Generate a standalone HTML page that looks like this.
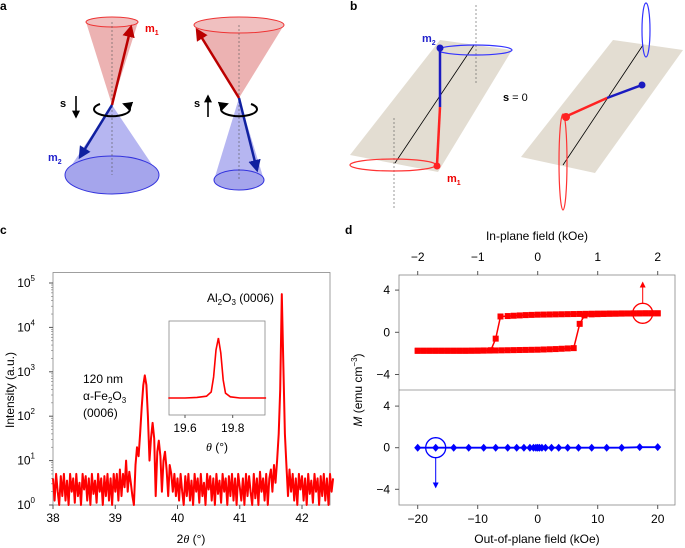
<!DOCTYPE html>
<html><head><meta charset="utf-8"><style>
body{margin:0;background:#fff;}
svg{display:block;font-family:"Liberation Sans",Arial,sans-serif;}
</style></head><body>
<svg id="fig" width="685" height="548" viewBox="0 0 685 548">
<defs>
<marker id="ar" viewBox="0 0 10 10" refX="8" refY="5" markerWidth="5" markerHeight="5" orient="auto"><path d="M0,0L10,5L0,10z" fill="#b00"/></marker>
<marker id="ab" viewBox="0 0 10 10" refX="8" refY="5" markerWidth="5" markerHeight="5" orient="auto"><path d="M0,0L10,5L0,10z" fill="#1020a0"/></marker>
<marker id="ak" viewBox="0 0 10 10" refX="8" refY="5" markerWidth="5" markerHeight="5" orient="auto"><path d="M0,0L10,5L0,10z" fill="#000"/></marker>
<marker id="arr" viewBox="0 0 10 10" refX="8" refY="5" markerWidth="6" markerHeight="6" orient="auto"><path d="M0,0L10,5L0,10z" fill="#f00"/></marker>
<marker id="abb" viewBox="0 0 10 10" refX="8" refY="5" markerWidth="6" markerHeight="6" orient="auto"><path d="M0,0L10,5L0,10z" fill="#00f"/></marker>
</defs>
<g>
<text x="0" y="10" font-weight="bold" font-size="12">a</text>
<g>
<path d="M86,22 L112,105 L138,22 Z" fill="#e9a5a5" opacity="0.85"/>
<ellipse cx="112" cy="22" rx="26" ry="5" fill="#f0c0c0" stroke="#e33" stroke-width="1"/>
<path d="M65,175 L112,105 L159,175 Z" fill="#a9a9ee" opacity="0.85"/>
<ellipse cx="112" cy="175" rx="47" ry="19" fill="#a5a5ec" stroke="#33d" stroke-width="1"/>
<line x1="112" y1="22" x2="112" y2="175" stroke="#555" stroke-dasharray="2,2" stroke-width="0.6"/>
<line x1="112" y1="105" x2="131" y2="27" stroke="#b00" stroke-width="2.5" marker-end="url(#ar)"/>
<line x1="112" y1="105" x2="80" y2="157" stroke="#1020a0" stroke-width="2.5" marker-end="url(#ab)"/>
<path d="M100,104 A18,7 0 1 0 124,104" fill="none" stroke="#000" stroke-width="2" marker-end="url(#ak)"/>
<line x1="76" y1="96" x2="76" y2="117" stroke="#000" stroke-width="1.6" marker-end="url(#ak)"/>
<text x="60" y="107" font-size="11" font-weight="bold">s</text>
<text x="145" y="32" font-size="11" font-weight="bold" fill="#e00">m<tspan font-size="7" dy="3">1</tspan></text>
<text x="48" y="161" font-size="11" font-weight="bold" fill="#22c">m<tspan font-size="7" dy="3">2</tspan></text>
</g>
<g>
<path d="M194,25 L239,98 L284,25 Z" fill="#e9a5a5" opacity="0.85"/>
<ellipse cx="239" cy="25" rx="45" ry="8" fill="#f0c0c0" stroke="#e33" stroke-width="1"/>
<path d="M214,180 L239,98 L264,180 Z" fill="#a9a9ee" opacity="0.85"/>
<ellipse cx="239" cy="180" rx="25" ry="10" fill="#a5a5ec" stroke="#33d" stroke-width="1"/>
<line x1="239" y1="25" x2="239" y2="180" stroke="#555" stroke-dasharray="2,2" stroke-width="0.6"/>
<line x1="239" y1="98" x2="197" y2="30" stroke="#b00" stroke-width="2.5" marker-end="url(#ar)"/>
<line x1="239" y1="98" x2="257" y2="170" stroke="#1020a0" stroke-width="2.5" marker-end="url(#ab)"/>
<path d="M251,104 A18,7 0 1 1 227,104" fill="none" stroke="#000" stroke-width="2" marker-end="url(#ak)"/>
<line x1="208" y1="117" x2="208" y2="96" stroke="#000" stroke-width="1.6" marker-end="url(#ak)"/>
<text x="194" y="107" font-size="11" font-weight="bold">s</text>
</g>
</g>
<g>
<text x="350" y="10" font-weight="bold" font-size="12">b</text>
<g>
<polygon points="440,40 512,50 438,172 350,155" fill="#e3ddd2"/>
<line x1="476" y1="5" x2="476" y2="83" stroke="#555" stroke-dasharray="2,2" stroke-width="0.6"/>
<line x1="394" y1="118" x2="394" y2="210" stroke="#555" stroke-dasharray="2,2" stroke-width="0.6"/>
<line x1="474" y1="45" x2="395" y2="163" stroke="#000" stroke-width="0.8"/>
<ellipse cx="475" cy="50" rx="37" ry="5" fill="none" stroke="#33f" stroke-width="1.2"/>
<ellipse cx="393" cy="165" rx="43" ry="6" fill="none" stroke="#f33" stroke-width="1.2"/>
<line x1="440" y1="107" x2="440" y2="48" stroke="#1a1ac0" stroke-width="2.5"/>
<circle cx="440" cy="48" r="3.5" fill="#1a1ac0"/>
<line x1="440" y1="107" x2="437" y2="165" stroke="#f22" stroke-width="2.5"/>
<circle cx="437" cy="166" r="3.5" fill="#f22"/>
<text x="422" y="42" font-size="11" font-weight="bold" fill="#22c">m<tspan font-size="7" dy="3">2</tspan></text>
<text x="447" y="182" font-size="11" font-weight="bold" fill="#e00">m<tspan font-size="7" dy="3">1</tspan></text>
</g>
<text x="503" y="101" font-size="11"><tspan font-weight="bold">s</tspan> = 0</text>
<g>
<polygon points="613,40 683,50 595,173 521,157" fill="#e3ddd2"/>
<line x1="643" y1="45" x2="563" y2="165" stroke="#000" stroke-width="0.8"/>
<ellipse cx="646" cy="30" rx="4" ry="27" fill="none" stroke="#33f" stroke-width="1.2"/>
<ellipse cx="563" cy="162" rx="4" ry="48" fill="none" stroke="#f33" stroke-width="1.2"/>
<line x1="607" y1="98" x2="642" y2="85" stroke="#1a1ac0" stroke-width="2.5"/>
<circle cx="642" cy="85" r="3.5" fill="#1a1ac0"/>
<line x1="607" y1="98" x2="567" y2="116" stroke="#f22" stroke-width="2.5"/>
<circle cx="566" cy="117" r="4" fill="#f22"/>
</g>
</g>
<g id="pc"></g>
<g id="pd"></g>
</svg>
<script>
const xrdStart = 38;
const xrdStep = 0.025;
const xrdLogIntensity = [
0.6,0.1,0.7,0.3,0.0,0.65,0.2,0.7,0.1,0.55,0.0,0.7,0.3,0.6,0.05,0.7,0.2,0.5,0.0,0.7,0.35,0.65,0.1,0.6,0.0,0.7,0.25,0.55,0.05,0.7,0.3,0.6,0.0,0.65,0.2,0.7,0.1,0.6,0.0,0.7,
0.3,0.7,0.1,0.8,0.2,0.7,0.4,1.0,0.3,0.75,0.5,0.2,
0.0,0.9,1.3,1.1,1.6,2.2,2.7,2.92,2.7,2.0,1.0,1.5,1.85,1.5,0.2,1.2,1.45,1.1,0.3,1.0,1.2,0.8,0.2,0.9,0.7,0.3,0.7,0.2,
0.6,0.1,0.7,0.3,0.0,0.65,0.2,0.7,0.1,0.55,0.0,0.7,0.3,0.6,0.05,0.7,0.2,0.5,0.0,0.7,0.35,0.65,0.1,0.6,0.0,0.7,0.25,0.55,0.05,0.7,0.3,0.6,0.0,0.65,0.2,0.7,0.1,0.6,0.0,0.7,0.4,0.1,0.6,0.0,0.7,0.2,0.65,0.3,0.0,0.7,0.15,0.6,0.0,0.75,0.3,0.6,0.1,0.7,0.0,0.6,
0.8,0.3,0.9,0.5,1.0,1.6,2.6,4.75,3.2,1.6,0.9,0.2,0.8,
0.3,0.7,0.1,0.6,0.0,0.7,0.35,0.65,0.1,0.6,0.0,0.7,0.25,0.55,0.05,0.7,0.3,0.6,0.0,0.65,0.2,0.7,0.1,0.6,0.0,0.7,0.3,0.6];
const xrdXTicks = [38,39,40,41,42];
const xrdYExps = [0,1,2,3,4,5];
const insetTheta = [19.53,19.6,19.65,19.69,19.71,19.72,19.73,19.74,19.75,19.76,19.77,19.79,19.83,19.9,19.94];
const insetIntensity = [0.0,0.0,0.01,0.03,0.1,0.35,0.8,1.0,0.75,0.3,0.08,0.02,0.0,0.0,0.0];
const insetTicks = [19.6,19.8];
const ipAscField = [-2.0,-1.9,-1.8,-1.7,-1.6,-1.5,-1.4,-1.3,-1.2,-1.1,-1.0,-0.9,-0.8,-0.7,-0.6,-0.5,-0.4,-0.3,-0.2,-0.1,0,0.1,0.2,0.3,0.4,0.5,0.6,0.7,0.78,0.9,1.0,1.1,1.2,1.3,1.4,1.5,1.6,1.7,1.8,1.9,2.0];
const ipAscM = [-1.75,-1.75,-1.75,-1.75,-1.75,-1.75,-1.75,-1.75,-1.75,-1.75,-1.75,-1.74,-1.73,-1.72,-1.71,-1.70,-1.69,-1.68,-1.67,-1.66,-1.65,-1.63,-1.61,-1.59,-1.56,-1.53,-1.5,0.8,1.6,1.7,1.72,1.74,1.75,1.76,1.77,1.78,1.78,1.79,1.8,1.8,1.8];
const ipDescField = [2.0,1.9,1.8,1.7,1.6,1.5,1.4,1.3,1.2,1.1,1.0,0.9,0.8,0.7,0.6,0.5,0.4,0.3,0.2,0.1,0,-0.1,-0.2,-0.3,-0.4,-0.5,-0.62,-0.7,-0.78,-0.9,-1.0,-1.1,-1.2,-1.3,-1.4,-1.5,-1.6,-1.7,-1.8,-1.9,-2.0];
const ipDescM = [1.8,1.8,1.8,1.8,1.8,1.79,1.79,1.78,1.78,1.77,1.77,1.76,1.75,1.74,1.73,1.72,1.71,1.7,1.69,1.68,1.67,1.65,1.63,1.6,1.57,1.54,1.5,-0.6,-1.7,-1.72,-1.73,-1.74,-1.75,-1.75,-1.75,-1.75,-1.75,-1.75,-1.75,-1.75,-1.75];
const oopField = [-20,-17,-14,-11.5,-9,-7,-5,-3.5,-2.3,-1.3,-0.7,-0.3,0,0.3,0.7,1.3,2.3,3.5,5,6.8,9,11.5,14,17,20];
const oopM = [0,0,0,0,0,0,0,0,0,0,0,0,0,0,0,0,0,0,0,0,0,0,0,0.05,0.05];
const ipTicks = [-2,-1,0,1,2];
const oopTicks = [-20,-10,0,10,20];
const mTicks = [4,0,-4];

const NS='http://www.w3.org/2000/svg';
function mk(p,tag,attrs,txt){const e=document.createElementNS(NS,tag);for(const k in attrs)e.setAttribute(k,attrs[k]);if(txt!==undefined)e.textContent=txt;p.appendChild(e);return e;}

const pc=document.getElementById('pc');
const xC=v=>53+(v-38)*62.25, yC=l=>505-l*44.4;
let t=mk(pc,'text',{x:0,y:234,'font-weight':'bold','font-size':12},'c');


let box=mk(pc,'rect',{x:53,y:272.5,width:277,height:232.5,fill:'none',stroke:'#888','stroke-width':0.8});


xrdXTicks.forEach(v=>{
  mk(pc,'line',{x1:xC(v),x2:xC(v),y1:505,y2:509,stroke:'#555'});
  const l=mk(pc,'text',{x:xC(v),y:522,'text-anchor':'middle','font-size':12},String(v));
  
  
});
xrdYExps.forEach(e=>{
  mk(pc,'line',{x1:49,x2:53,y1:yC(e),y2:yC(e),stroke:'#555'});
  if(e<5){for(let k=2;k<10;k++){const y=yC(e+Math.log10(k));mk(pc,'line',{x1:51,x2:53,y1:y,y2:y,stroke:'#777','stroke-width':0.6});}}
  const l=mk(pc,'text',{x:35,y:yC(e)+4,'text-anchor':'end','font-size':12},'10');
  mk(l,'tspan',{'font-size':8,dy:-6},String(e));
  
  
});
let pts=xrdLogIntensity.map((v,i)=>xC(xrdStart+i*xrdStep).toFixed(1)+','+yC(Math.max(0,v)).toFixed(1)).join(' ');
let xl=mk(pc,'polyline',{points:pts,fill:'none',stroke:'#f00','stroke-width':2,'stroke-linejoin':'round'});


t=mk(pc,'text',{x:14,y:390,'text-anchor':'middle','font-size':12,transform:'rotate(-90 14 390)'},'Intensity (a.u.)');


t=mk(pc,'text',{x:191,y:543,'text-anchor':'middle','font-size':12});
mk(t,'tspan',{},'2');mk(t,'tspan',{'font-style':'italic','font-family':'Liberation Serif'},'θ');mk(t,'tspan',{},' (°)');


t=mk(pc,'text',{x:207,y:302,'font-size':12});
mk(t,'tspan',{},'Al');mk(t,'tspan',{'font-size':8,dy:3},'2');mk(t,'tspan',{dy:-3},'O');mk(t,'tspan',{'font-size':8,dy:3},'3');mk(t,'tspan',{dy:-3},' (0006)');


const fe=mk(pc,'g',{'font-size':12});


mk(fe,'text',{x:83,y:383},'120 nm');
t=mk(fe,'text',{x:83,y:400});mk(t,'tspan',{},'α-Fe');mk(t,'tspan',{'font-size':8,dy:3},'2');mk(t,'tspan',{dy:-3},'O');mk(t,'tspan',{'font-size':8,dy:3},'3');
mk(fe,'text',{x:83,y:417},'(0006)');
const xI=v=>185+(v-19.6)*238.5, yI=v=>398-v*60;
const ib=mk(pc,'rect',{x:169,y:321,width:96,height:94,fill:'#fff',stroke:'#888','stroke-width':0.8});


insetTicks.forEach(v=>{
  mk(pc,'line',{x1:xI(v),x2:xI(v),y1:415,y2:418,stroke:'#555'});
  const l=mk(pc,'text',{x:xI(v),y:432,'text-anchor':'middle','font-size':12},v.toFixed(1));
  
  
});
let il=mk(pc,'polyline',{points:insetTheta.map((v,i)=>xI(v).toFixed(1)+','+yI(insetIntensity[i]).toFixed(1)).join(' '),fill:'none',stroke:'#f00','stroke-width':1.6});


t=mk(pc,'text',{x:217,y:451,'text-anchor':'middle','font-size':12});
mk(t,'tspan',{'font-style':'italic','font-family':'Liberation Serif'},'θ');mk(t,'tspan',{},' (°)');



const pd=document.getElementById('pd');
const xT=v=>537.7+v*60, xB=v=>537.7+v*6, yU=m=>332.3-m*10.55, yL=m=>447.7-m*10.4;
t=mk(pd,'text',{x:345,y:234,'font-weight':'bold','font-size':12},'d');


box=mk(pd,'rect',{x:399,y:275,width:276,height:230,fill:'none',stroke:'#888','stroke-width':0.8});


mk(pd,'line',{x1:399,x2:675,y1:390,y2:390,stroke:'#888','stroke-width':0.8});
ipTicks.forEach(v=>{
  mk(pd,'line',{x1:xT(v),x2:xT(v),y1:271,y2:275,stroke:'#555'});
  const l=mk(pd,'text',{x:xT(v),y:261,'text-anchor':'middle','font-size':12},v<0?'−'+(-v):String(v));
  
  
});
oopTicks.forEach(v=>{
  mk(pd,'line',{x1:xB(v),x2:xB(v),y1:505,y2:509,stroke:'#555'});
  const l=mk(pd,'text',{x:xB(v),y:523,'text-anchor':'middle','font-size':12},v<0?'−'+(-v):String(v));
  
  
});
mTicks.forEach(v=>{
  [yU(v),yL(v)].forEach(y=>{
    mk(pd,'line',{x1:395,x2:399,y1:y,y2:y,stroke:'#555'});
    const l=mk(pd,'text',{x:390,y:y+4,'text-anchor':'end','font-size':12},v<0?'−'+(-v):String(v));
    
    
  });
});
t=mk(pd,'text',{x:537,y:240,'text-anchor':'middle','font-size':12},'In-plane field (kOe)');


t=mk(pd,'text',{x:537,y:543,'text-anchor':'middle','font-size':12},'Out-of-plane field (kOe)');


t=mk(pd,'text',{x:362,y:390,'text-anchor':'middle','font-size':12,transform:'rotate(-90 362 390)'});
mk(t,'tspan',{'font-style':'italic'},'M');mk(t,'tspan',{},' (emu cm');mk(t,'tspan',{'font-size':8,dy:-5},'−3');mk(t,'tspan',{dy:5},')');


[[ipAscField,ipAscM],[ipDescField,ipDescM]].forEach(([f,m],bi)=>{
  const ln=mk(pd,'polyline',{points:f.map((v,i)=>xT(v).toFixed(1)+','+yU(m[i]).toFixed(1)).join(' '),fill:'none',stroke:'#f00','stroke-width':1.5});
  
  
  f.forEach((v,i)=>{
    const s=mk(pd,'rect',{x:xT(v)-3,y:yU(m[i])-3,width:6,height:6,fill:'#f00'});
    
    
  });
});
const ol=mk(pd,'polyline',{points:oopField.map((v,i)=>xB(v).toFixed(1)+','+yL(oopM[i]).toFixed(1)).join(' '),fill:'none',stroke:'#00f','stroke-width':1.8});


oopField.forEach((v,i)=>{
  const x=xB(v),y=yL(oopM[i]);
  const d=mk(pd,'polygon',{points:`${x},${y-4} ${x+3.5},${y} ${x},${y+4} ${x-3.5},${y}`,fill:'#00f'});
  
  
});
let c=mk(pd,'circle',{cx:xT(1.75),cy:yU(1.8),r:10,fill:'none',stroke:'#f00','stroke-width':1.3});


mk(pd,'line',{x1:xT(1.75),x2:xT(1.75),y1:yU(1.8)-10,y2:yU(4.7),stroke:'#f00','stroke-width':1,'marker-end':'url(#arr)'});
c=mk(pd,'circle',{cx:xB(-17),cy:yL(0),r:10,fill:'none',stroke:'#00f','stroke-width':1.3});


mk(pd,'line',{x1:xB(-17),x2:xB(-17),y1:yL(0)+10,y2:yL(-3.8),stroke:'#00f','stroke-width':1,'marker-end':'url(#abb)'});
</script>
</body></html>
